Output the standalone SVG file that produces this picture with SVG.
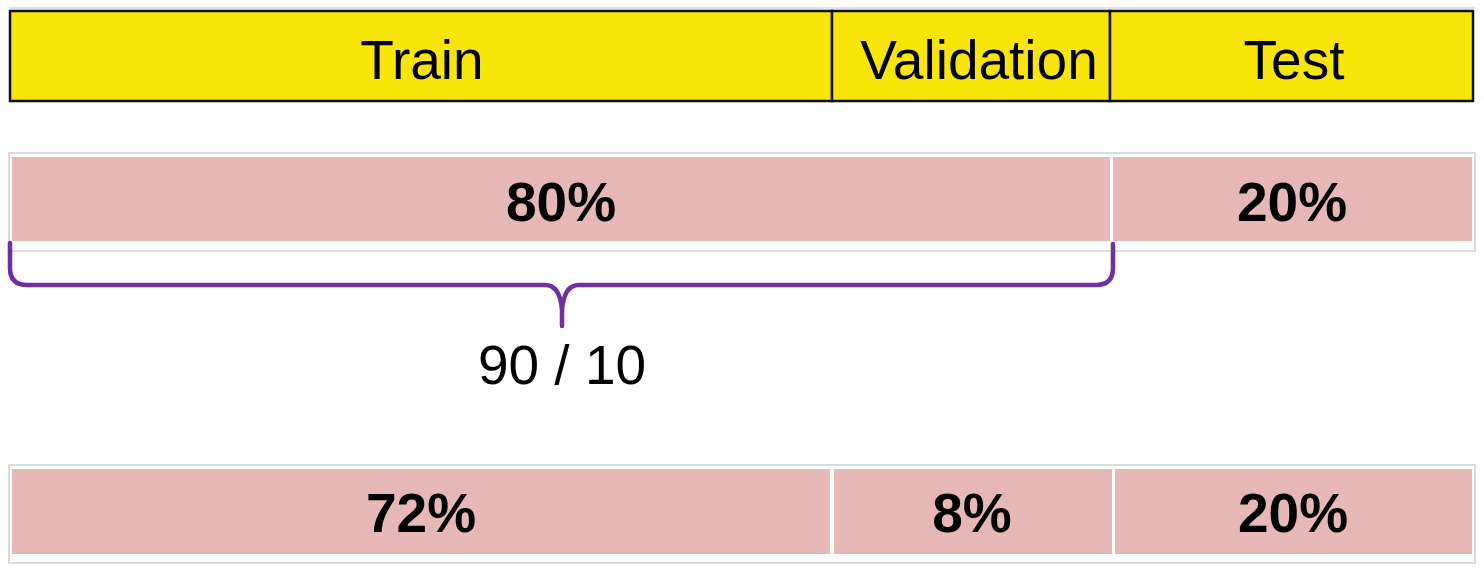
<svg xmlns="http://www.w3.org/2000/svg" width="1484" height="572" viewBox="0 0 1484 572">
<style>
.hdr{fill:#F8E60A;stroke:#111;stroke-width:2.5}
.pink{fill:#E6B8B7}
.frame{fill:#fff;stroke:#d0d0d0;stroke-width:1.5}
.lbl{font-family:"Liberation Sans",Arial,sans-serif;font-size:55px;fill:#000;text-anchor:middle}
.b{font-weight:bold}
.brace{fill:none;stroke:#7030A0;stroke-width:4.5;stroke-linecap:round;stroke-linejoin:round}
</style>
<rect width="1484" height="572" fill="#fff"/>
<line x1="9" y1="8" x2="1475" y2="8" stroke="#d8d8d8" stroke-width="1.5"/>
<g id="header">
  <g id="train-h"><rect class="hdr" x="10" y="11" width="822" height="90"/><text class="lbl" x="422" y="79">Train</text></g>
  <g id="val-h"><rect class="hdr" x="832" y="11" width="278" height="90"/><text class="lbl" x="979" y="79">Validation</text></g>
  <g id="test-h"><rect class="hdr" x="1110" y="11" width="363" height="90"/><text class="lbl" x="1294" y="79">Test</text></g>
</g>
<g id="row2">
  <rect class="frame" x="9" y="153" width="1466" height="98"/>
  <g id="r2-80"><rect class="pink" x="12" y="157" width="1098" height="84"/><text class="lbl b" x="561" y="221">80%</text></g>
  <g id="r2-20"><rect class="pink" x="1113" y="157" width="359" height="84"/><text class="lbl b" x="1292" y="221">20%</text></g>
</g>
<g id="row3">
  <rect class="frame" x="9" y="465" width="1466" height="98"/>
  <g id="r3-72"><rect class="pink" x="12" y="469" width="818" height="85"/><text class="lbl b" x="421" y="532">72%</text></g>
  <g id="r3-8"><rect class="pink" x="834" y="469" width="278" height="85"/><text class="lbl b" x="972" y="532">8%</text></g>
  <g id="r3-20"><rect class="pink" x="1115" y="469" width="357" height="85"/><text class="lbl b" x="1293" y="532">20%</text></g>
</g>
<g id="connectors">
  <path class="brace" d="M10,243 L10,268 Q10,285 27,285 L545,285 Q560,285 562,310 L562,326 M562,310 Q564,285 579,285 L1096,285 Q1113,285 1113,268 L1113,244"/>
</g>
<g id="brace-label"><text class="lbl" x="562" y="384">90 / 10</text></g>
</svg>
